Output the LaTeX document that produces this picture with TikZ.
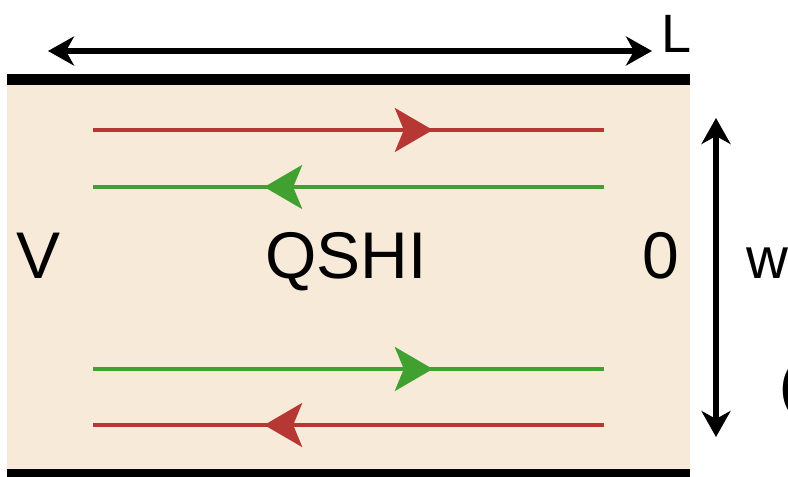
\documentclass[tikz,border=0pt]{standalone}
\usepackage{fontspec}
\setmainfont{Liberation Sans}
\usetikzlibrary{arrows.meta,decorations.markings}
\definecolor{bgbeige}{RGB}{247,234,216}
\definecolor{edgered}{RGB}{183,55,52}
\definecolor{edgegreen}{RGB}{64,160,48}
\tikzset{
  dimarrow/.style={line width=5.5pt, black, {Stealth[length=26pt,width=29pt,inset=8pt]}-{Stealth[length=26pt,width=29pt,inset=8pt]}},
  edgeline/.style={line width=3.3pt, color=#1,
    postaction={decorate, decoration={markings,
      mark=at position 0.665 with {\arrow{Stealth[length=38pt,width=44pt,inset=9pt]}}}}},
  lbl/.style={inner sep=0pt, anchor=base, text=black},
}
\begin{document}
\begin{tikzpicture}[x=1pt,y=-1pt]
\clip (0,0) rectangle (788,477);
\fill[white] (0,0) rectangle (788,477);
% sample
\fill[bgbeige] (7,80) rectangle (690,472);
\fill[black] (7,74) rectangle (690,85);
\fill[black] (7,469) rectangle (690,480);
% length arrow
\coordinate (Lleft) at (48,51);
\coordinate (Lright) at (652,51);
\draw[dimarrow] (Lleft) -- (Lright);
\node[lbl, font=\fontsize{54}{54}\selectfont] (Llbl) at (677,52) {L};
% width arrow
\coordinate (wtop) at (716,118);
\coordinate (wbot) at (716,437);
\draw[dimarrow] (wtop) -- (wbot);
\node[lbl, font=\fontsize{58}{58}\selectfont] (wlbl) at (767,278) {w};
\node[lbl, anchor=base west, font=\fontsize{60}{60}\selectfont] (paren) at (779,405) {(};
% edge channels
\coordinate (r1a) at (93,130);  \coordinate (r1b) at (604,130);
\coordinate (g1a) at (604,187); \coordinate (g1b) at (93,187);
\coordinate (g2a) at (93,369);  \coordinate (g2b) at (604,369);
\coordinate (r2a) at (604,425); \coordinate (r2b) at (93,425);
\draw[edgeline=edgered] (r1a) -- (r1b);
\draw[edgeline=edgegreen] (g1a) -- (g1b);
\draw[edgeline=edgegreen] (g2a) -- (g2b);
\draw[edgeline=edgered] (r2a) -- (r2b);
% labels
\node[lbl, font=\fontsize{66}{66}\selectfont] (V) at (38.5,278) {V};
\node[lbl, font=\fontsize{66}{66}\selectfont] (QSHI) at (346,278) {QSHI};
\node[lbl, font=\fontsize{66}{66}\selectfont] (zero) at (661,278) {0};
\end{tikzpicture}
\end{document}
